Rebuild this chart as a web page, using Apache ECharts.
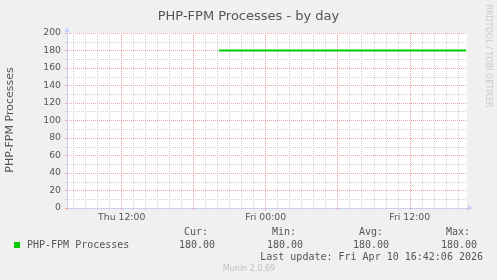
<!DOCTYPE html>
<html>
<head>
<meta charset="utf-8">
<script src="https://cdn.jsdelivr.net/npm/echarts@6/dist/echarts.min.js"></script>
<style>
html,body{margin:0;padding:0;background:#f0f0f0;}
#c{width:497px;height:280px;}
</style>
</head>
<body>
<div id="c"></div>
<script>
// ---- data (hours counted from Thu 00:00) ----
const seriesName = 'PHP-FPM Processes';
const sampleHours = [20.1, 24, 30, 36, 40.7];
const sampleValues = [180, 180, 180, 180, 180];
const xTickHours = [12, 24, 36];
const xTickLabels = ['Thu 12:00', 'Fri 00:00', 'Fri 12:00'];
const xRangeHours = [7.44, 40.77];
const yTicks = [0, 20, 40, 60, 80, 100, 120, 140, 160, 180, 200];
const statLabels = ['Cur:', 'Min:', 'Avg:', 'Max:'];
const statValues = [180.00, 180.00, 180.00, 180.00];
const lastUpdate = 'Last update: Fri Apr 10 16:42:06 2026';
const titleText = 'PHP-FPM Processes - by day';
const sideText = 'RRDTOOL / TOBI OETIKER';
const footerText = 'Munin 2.0.69';

// x axis unit = 6 hours, so nice ticks fall on 6-hour boundaries
const U = 6;
const green = '#00cc00';
const txt = '#555';
const axisCol = '#c8cff8';
const majorGrid = '#eca4a4';
const minorGrid = '#d2d2d2';
const sans = 'DejaVu Sans';
const mono = 'DejaVu Sans Mono';

const chart = echarts.init(document.getElementById('c'), null, {renderer: 'canvas'});

const data = sampleHours.map((h, i) => [h / U, sampleValues[i]]);

const statX = [208, 296, 383, 470];
const valX = [215, 303, 389, 477];
const graphics = [];
graphics.push({type: 'text', x: 10, y: 120, rotation: Math.PI / 2,
  style: {text: 'PHP-FPM Processes', fontSize: 11, fontFamily: sans, fill: txt, align: 'center', verticalAlign: 'middle'}});
graphics.push({type: 'text', x: 488, y: 56, rotation: -Math.PI / 2,
  style: {text: sideText, fontSize: 8, fontFamily: sans, fill: '#c8c8c8', align: 'center', verticalAlign: 'middle'}});
graphics.push({type: 'rect', shape: {x: 14, y: 242, width: 6, height: 6}, style: {fill: green}});
graphics.push({type: 'text', x: 27, y: 245,
  style: {text: seriesName, fontSize: 10, fontFamily: mono, fill: txt, align: 'left', verticalAlign: 'middle'}});
statLabels.forEach((s, i) => {
  graphics.push({type: 'text', x: statX[i], y: 232.5,
    style: {text: s, fontSize: 10, fontFamily: mono, fill: txt, align: 'right', verticalAlign: 'middle'}});
  graphics.push({type: 'text', x: valX[i], y: 245,
    style: {text: statValues[i].toFixed(2), fontSize: 10, fontFamily: mono, fill: txt, align: 'right', verticalAlign: 'middle'}});
});
graphics.push({type: 'text', x: 483, y: 257,
  style: {text: lastUpdate, fontSize: 10, fontFamily: mono, fill: txt, align: 'right', verticalAlign: 'middle'}});
graphics.push({type: 'text', x: 249, y: 269,
  style: {text: footerText, fontSize: 8, fontFamily: sans, fill: '#c0c0c0', align: 'center', verticalAlign: 'middle'}});

chart.setOption({
  animation: false,
  backgroundColor: '#f0f0f0',
  title: {text: titleText, left: 'center', top: 5,
    textStyle: {fontSize: 13, fontWeight: 'normal', fontFamily: sans, color: txt}},
  grid: {left: 67, right: 30, top: 33, bottom: 72, show: true, backgroundColor: '#ffffff', borderWidth: 0},
  xAxis: {
    type: 'value',
    min: xRangeHours[0] / U, max: xRangeHours[1] / U,
    splitNumber: 5,
    axisLine: {show: true, lineStyle: {color: axisCol, width: 1}, symbol: ['none', 'arrow'], symbolSize: [5, 6], symbolOffset: [0, 6]},
    axisTick: {show: true, length: 2, lineStyle: {color: majorGrid}},
    minorTick: {show: true, splitNumber: 6, length: 2, lineStyle: {color: minorGrid}},
    splitLine: {show: true, showMinLine: false, showMaxLine: false, lineStyle: {color: majorGrid, type: [1, 1], width: 1}},
    minorSplitLine: {show: true, lineStyle: {color: minorGrid, type: [1, 1], width: 1}},
    axisLabel: {
      showMinLabel: false, showMaxLabel: false, margin: 5,
      fontSize: 9.3, fontFamily: sans, color: txt,
      formatter: v => {
        const h = Math.round(v * U);
        const k = xTickHours.indexOf(h);
        return k >= 0 ? xTickLabels[k] : '';
      }
    }
  },
  yAxis: {
    type: 'value', min: yTicks[0], max: yTicks[yTicks.length - 1], interval: yTicks[1] - yTicks[0],
    axisLine: {show: true, lineStyle: {color: axisCol, width: 1}, symbol: ['none', 'arrow'], symbolSize: [5, 6], symbolOffset: [0, 6]},
    axisTick: {show: true, length: 2, lineStyle: {color: majorGrid}},
    minorTick: {show: true, splitNumber: 2, length: 2, lineStyle: {color: minorGrid}},
    splitLine: {show: true, lineStyle: {color: majorGrid, type: [1, 1], width: 1}},
    minorSplitLine: {show: true, lineStyle: {color: minorGrid, type: [1, 1], width: 1}},
    axisLabel: {margin: 6, fontSize: 9.3, fontFamily: sans, color: txt}
  },
  series: [{
    name: seriesName, type: 'line', data: data, showSymbol: false, symbol: 'none',
    lineStyle: {color: green, width: 2}, itemStyle: {color: green}, z: 5
  }],
  graphic: graphics
});
</script>
</body>
</html>
